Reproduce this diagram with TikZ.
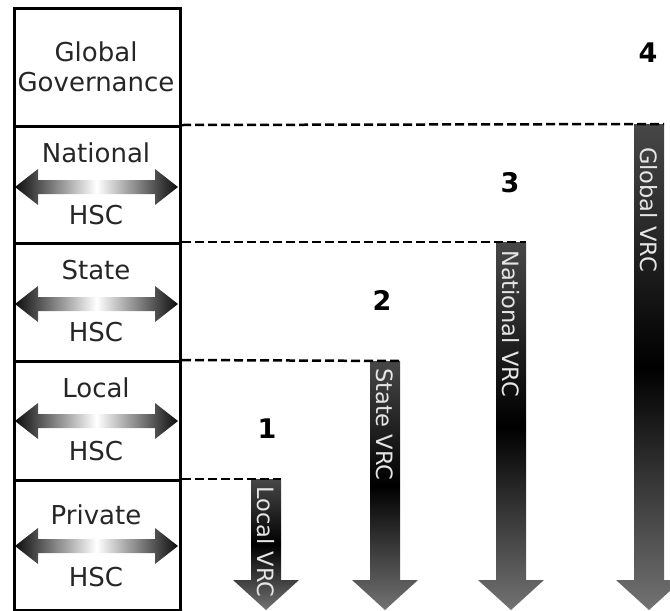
\documentclass[tikz,border=0pt]{standalone}
\usepackage{fontspec}
\setmainfont{DejaVu Sans}
\pgfdeclarehorizontalshading{hsc}{100bp}{color(0bp)=(black!95); color(25bp)=(black!95); color(50bp)=(white); color(75bp)=(black!95); color(100bp)=(black!95)}
\pgfdeclareverticalshading{vrc}{100bp}{color(0bp)=(black!55); color(25bp)=(black!55); color(50bp)=(black); color(75bp)=(black!72); color(100bp)=(black!72)}
\newcommand\hscarrow[2]{%
  \shade[shading=hsc] (15,#1) -- (38,#1-18) -- (38,#1-7) -- (155,#1-7) -- (155,#1-18) -- (178,#1) -- (155,#1+18) -- (155,#1+7) -- (38,#1+7) -- (38,#1+18) -- cycle;
  \coordinate (#2) at (96,#1);}
\newcommand\vrcarrow[5]{%
  \shade[shading=vrc] (#1-15,#2) -- (#1+15,#2) -- (#1+15,580) -- (#1+33,580) -- (#1,610) -- (#1-33,580) -- (#1-15,580) -- cycle;
  \coordinate (#3) at (#1+15,#2);
  \node[vtxt, anchor=west, rotate=-90] (#3t) at (#1,#2+#5) {#4};}
\begin{document}
\begin{tikzpicture}[x=1pt,y=-1pt,
  lbl/.style={font=\fontsize{26}{29}\selectfont, text=black!85, inner sep=0pt},
  vtxt/.style={font=\fontsize{22.5}{25}\selectfont, text=black!10, inner sep=0pt},
  num/.style={font=\bfseries\fontsize{27}{30}\selectfont, inner sep=0pt},
  box/.style={draw, line width=3pt, minimum width=166pt, inner sep=0pt, anchor=north west},
  guide/.style={line width=2.5pt, dash pattern=on 9pt off 4pt}]
\useasboundingbox (0,0) rectangle (670,611);
% left column
\node[box, minimum height=118pt] (gg) at (13,7) {};
\node[box, minimum height=117pt] (nat) at (13,125) {};
\node[box, minimum height=118pt] (sta) at (13,242) {};
\node[box, minimum height=119pt] (loc) at (13,360) {};
\node[box, minimum height=130pt] (pri) at (13,479) {};
\node[lbl] (ggt1) at (96,52) {Global};
\node[lbl] (ggt2) at (96,82) {Governance};
\node[lbl] (natt) at (96,153) {National};
\node[lbl] (nath) at (96,215) {HSC};
\node[lbl] (stat) at (96,270) {State};
\node[lbl] (stah) at (96,332) {HSC};
\node[lbl] (loct) at (96,388) {Local};
\node[lbl] (loch) at (96,451) {HSC};
\node[lbl] (prit) at (96,515) {Private};
\node[lbl] (prih) at (96,577) {HSC};
\hscarrow{187}{natA}
\hscarrow{304}{staA}
\hscarrow{421}{locA}
\hscarrow{546}{priA}
% vertical arrows
\vrcarrow{266}{479}{lv}{Local VRC}{7}
\vrcarrow{385}{361}{sv}{State VRC}{7}
\vrcarrow{511}{242}{nv}{National VRC}{8}
\vrcarrow{649}{124}{gv}{Global VRC}{23}
% dashed guides
\draw[guide] (pri.north east) -- (lv);
\draw[guide] (loc.north east) -- (sv);
\draw[guide] (sta.north east) -- (nv);
\draw[guide] (nat.north east) -- (gv);
% numbers
\node[num] (n1) at (267,429) {1};
\node[num] (n2) at (382,300) {2};
\node[num] (n3) at (510,183) {3};
\node[num] (n4) at (648,53) {4};
\end{tikzpicture}
\end{document}
